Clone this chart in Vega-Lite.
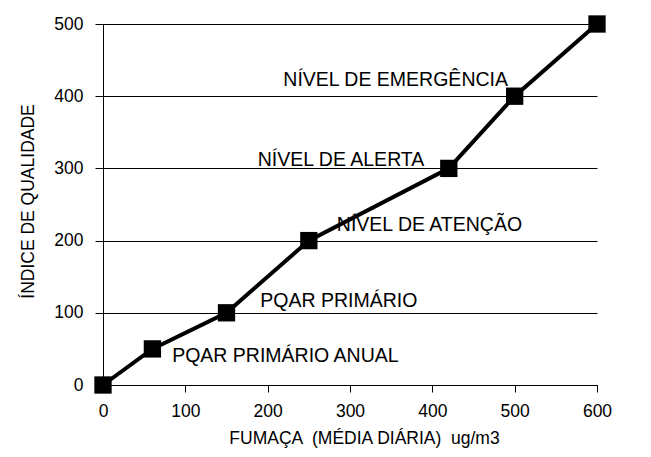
{
  "$schema": "https://vega.github.io/schema/vega-lite/v6.json",
  "width": 494,
  "height": 361,
  "autosize": {"type": "none"},
  "padding": {"left": 103, "top": 24, "right": 54, "bottom": 72},
  "background": "white",
  "config": {
    "view": {"stroke": null},
    "font": "Liberation Sans",
    "axis": {
      "labelFont": "Liberation Sans",
      "titleFont": "Liberation Sans",
      "labelFontSize": 17.5,
      "titleFontSize": 17.5,
      "titleFontWeight": "normal",
      "labelColor": "#000",
      "titleColor": "#000",
      "domainColor": "#000",
      "tickColor": "#000",
      "gridColor": "#000",
      "gridOpacity": 1,
      "gridWidth": 1
    }
  },
  "datasets": {
    "curve": [
      {"fumaca": 0, "indice": 0},
      {"fumaca": 60, "indice": 50},
      {"fumaca": 150, "indice": 100},
      {"fumaca": 250, "indice": 200},
      {"fumaca": 420, "indice": 300},
      {"fumaca": 500, "indice": 400},
      {"fumaca": 600, "indice": 500}
    ],
    "labels": [
      {"fumaca": 84, "indice": 40, "label": "PQAR PRIMÁRIO ANUAL"},
      {"fumaca": 191, "indice": 116, "label": "PQAR PRIMÁRIO"},
      {"fumaca": 284, "indice": 222, "label": "NÍVEL DE ATENÇÃO"},
      {"fumaca": 188, "indice": 312, "label": "NÍVEL DE ALERTA"},
      {"fumaca": 219, "indice": 422, "label": "NÍVEL DE EMERGÊNCIA"}
    ]
  },
  "layer": [
    {
      "data": {"name": "curve"},
      "mark": {"type": "line", "color": "#000", "strokeWidth": 4, "clip": false},
      "encoding": {
        "x": {
          "field": "fumaca", "type": "quantitative",
          "scale": {"domain": [0, 600], "nice": false},
          "title": "FUMAÇA \u00a0(MÉDIA DIÁRIA) \u00a0ug/m3",
          "axis": {"values": [0, 100, 200, 300, 400, 500, 600], "grid": false, "labelFlush": false, "tickSize": 7, "labelPadding": 10, "titlePadding": 10, "titleX": 261}
        },
        "y": {
          "field": "indice", "type": "quantitative",
          "scale": {"domain": [0, 500], "nice": false},
          "title": "ÍNDICE DE QUALIDADE",
          "axis": {"values": [0, 100, 200, 300, 400, 500], "grid": true, "labelFlush": false, "tickSize": 8, "labelPadding": 12, "titlePadding": 16, "titleY": 177}
        }
      }
    },
    {
      "data": {"name": "curve"},
      "mark": {"type": "point", "shape": "square", "filled": true, "color": "#000", "size": 300, "opacity": 1, "clip": false},
      "encoding": {
        "x": {"field": "fumaca", "type": "quantitative"},
        "y": {"field": "indice", "type": "quantitative"}
      }
    },
    {
      "data": {"name": "labels"},
      "mark": {"type": "text", "align": "left", "baseline": "middle", "fontSize": 19.5, "font": "Liberation Sans", "color": "#000"},
      "encoding": {
        "x": {"field": "fumaca", "type": "quantitative"},
        "y": {"field": "indice", "type": "quantitative"},
        "text": {"field": "label"}
      }
    }
  ]
}
